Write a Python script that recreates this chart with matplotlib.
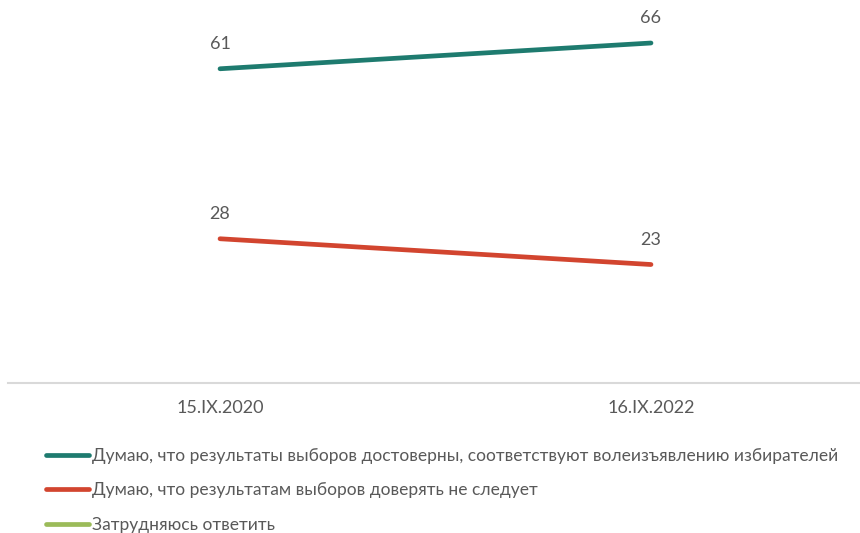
import matplotlib
matplotlib.use("Agg")
import matplotlib.pyplot as plt
import numpy as np

# Survey waves and shares (%)
dates = ["15.IX.2020", "16.IX.2022"]
trust = [61, 66]
distrust = [28, 23]
unsure = [np.nan, np.nan]

series_names = [
    "Думаю, что результаты выборов достоверны, соответствуют волеизъявлению избирателей",
    "Думаю, что результатам выборов доверять не следует",
    "Затрудняюсь ответить",
]
series_colors = ["#1E7B6F", "#D2452F", "#9BBB59"]

plt.rcParams["font.family"] = ["Lato", "DejaVu Sans"]

text_color = "#595959"

fig = plt.figure(figsize=(8.6, 5.33), dpi=100)
ax = fig.add_axes([8 / 860, 1 - 383 / 533, 852 / 860, (383 - 22.4) / 533])

x = np.arange(len(dates))
lines = []
for vals, color, name in zip([trust, distrust, unsure], series_colors, series_names):
    (ln,) = ax.plot(x, vals, color=color, lw=3.4, solid_capstyle="round", label=name)
    lines.append(ln)
    for xi, v in zip(x, vals):
        if not np.isnan(v):
            ax.annotate(f"{v:g}", (xi, v), xytext=(0, 18), textcoords="offset points",
                        ha="center", va="center", fontsize=13, color=text_color)

ax.set_xlim(-0.492, 1.485)
ax.set_ylim(0, 70)
ax.set_xticks(x)
ax.set_xticklabels(dates, fontsize=13, color=text_color)
ax.tick_params(axis="x", length=0, pad=12)
ax.set_yticks([])
for side in ["top", "right", "left"]:
    ax.spines[side].set_visible(False)
ax.spines["bottom"].set_color("#D9D9D9")
ax.spines["bottom"].set_linewidth(1.5)

leg = fig.legend(handles=lines, loc="upper left", bbox_to_anchor=(30 / 860, 1 - 432 / 533),
                 frameon=False, fontsize=12.5, handlelength=2.5, handletextpad=0.15,
                 labelspacing=1.08, labelcolor=text_color)

fig.savefig("out.png", dpi=100, facecolor="white")
